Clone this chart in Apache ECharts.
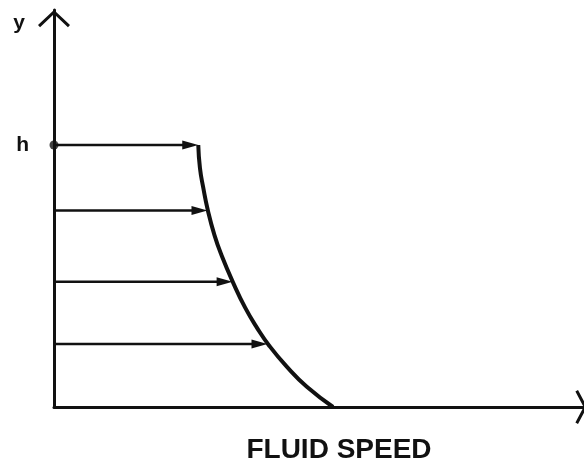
<!DOCTYPE html>
<html>
<head>
<meta charset="utf-8">
<script src="https://cdn.jsdelivr.net/npm/echarts@6/dist/echarts.min.js"></script>
<style>
  html, body { margin: 0; padding: 0; background: #fff; }
  #chart { width: 584px; height: 461px; }
</style>
</head>
<body>
<div id="chart"></div>
<script>
// velocity profile (height h = 1, speed at the bed = 1)
const profileHeight = [1.0, 0.912, 0.836, 0.752, 0.656, 0.58, 0.472, 0.379, 0.303, 0.233, 0.154, 0.077, 0];
const profileSpeed = [0.517, 0.523, 0.535, 0.551, 0.575, 0.6, 0.643, 0.685, 0.727, 0.772, 0.834, 0.906, 1.0];
// speed arrows
const arrowHeight = [1, 0.75, 0.478, 0.24];
const arrowSpeed = [0.517, 0.55, 0.64, 0.765];
// tick labels
const yTickValues = [1];
const yTickLabels = ["h"];

const ink = "#111";
const font = "Liberation Sans, Arial, sans-serif";

// open V arrow heads for the axes (tip points up, rotated by echarts)
const yHead = "path://M0,15 L16,0 L32,15 L29.95,17.2 L16,4.1 L2.05,17.2 Z";
const xHead = "path://M0,9 L17,0 L34,9 L32.6,11.6 L17,3.4 L1.4,11.6 Z";

function renderArrow(params, api) {
  const start = api.coord([0, api.value(1)]);
  const end = api.coord([api.value(0), api.value(1)]);
  const headLen = 16;
  const headHalf = 4.5;
  return {
    type: "group",
    children: [
      {
        type: "line",
        shape: { x1: start[0], y1: start[1], x2: end[0] - headLen + 2, y2: end[1] },
        style: { stroke: ink, lineWidth: 2.5 },
      },
      {
        type: "polygon",
        shape: {
          points: [
            [end[0], end[1]],
            [end[0] - headLen, end[1] - headHalf],
            [end[0] - headLen, end[1] + headHalf],
          ],
        },
        style: { fill: ink },
      },
    ],
  };
}

const chart = echarts.init(document.getElementById("chart"));
chart.setOption({
  animation: false,
  backgroundColor: "#fff",
  grid: { left: 54, right: -3, top: 10, bottom: 54, outerBoundsMode: "none", containLabel: false },
  xAxis: {
    type: "value",
    min: 0,
    max: 1.91,
    name: "FLUID SPEED",
    nameLocation: "middle",
    nameGap: 29,
    nameTextStyle: {
      color: ink,
      fontFamily: font,
      fontWeight: "bold",
      fontSize: 28,
      padding: [0, 0, 0, 37],
    },
    axisLine: {
      lineStyle: { color: ink, width: 3 },
      symbol: ["none", xHead],
      symbolSize: [34, 11.6],
      symbolOffset: [0, -5.8],
    },
    axisTick: { show: false },
    axisLabel: { show: false },
    splitLine: { show: false },
  },
  yAxis: {
    type: "value",
    min: 0,
    max: 1.515,
    name: "y",
    nameLocation: "end",
    nameGap: -13,
    nameTextStyle: {
      color: ink,
      fontFamily: font,
      fontWeight: "bold",
      fontSize: 21,
      align: "right",
      verticalAlign: "middle",
      padding: [0, 29, 0, 0],
    },
    axisLine: {
      lineStyle: { color: ink, width: 3 },
      symbol: ["none", yHead],
      symbolSize: [32, 17.2],
      symbolOffset: [0, -8.6],
    },
    axisTick: { show: false },
    axisLabel: {
      customValues: yTickValues,
      formatter: (v) => yTickLabels[yTickValues.indexOf(v)] || "",
      color: ink,
      fontFamily: font,
      fontWeight: "bold",
      fontSize: 21,
      margin: 25,
    },
    splitLine: { show: false },
  },
  series: [
    {
      type: "line",
      data: profileSpeed.map((s, i) => [s, profileHeight[i]]),
      showSymbol: false,
      smooth: 0.5,
      lineStyle: { color: ink, width: 4 },
      z: 3,
    },
    {
      type: "custom",
      renderItem: renderArrow,
      data: arrowSpeed.map((s, i) => [s, arrowHeight[i]]),
      z: 4,
    },
    {
      type: "scatter",
      data: [[0, arrowHeight[0]]],
      symbol: "circle",
      symbolSize: 9,
      itemStyle: { color: ink },
      z: 5,
    },
  ],
});
</script>
</body>
</html>
